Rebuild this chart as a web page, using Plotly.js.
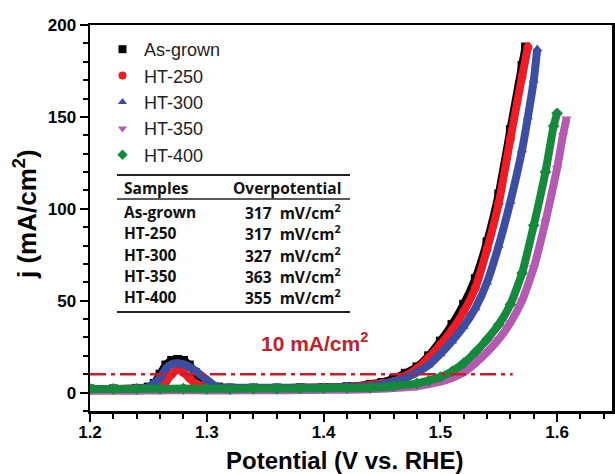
<!DOCTYPE html>
<html><head><meta charset="utf-8">
<script src="https://cdn.plot.ly/plotly-3.0.1.min.js"></script>
<style>html,body{margin:0;padding:0;background:#fff}#chart{width:615px;height:474px}</style>
</head><body><div id="chart"></div>
<script>
// ---- data ----
const seriesNames = ["As-grown", "HT-250", "HT-300", "HT-350", "HT-400"];

const asGrownX = [1.20,1.22,1.24,1.25,1.255,1.26,1.265,1.27,1.275,1.28,1.285,1.29,1.295,1.30,1.31,1.32,1.34,1.36,1.38,1.40,1.42,1.44,1.45,1.46,1.47,1.48,1.49,1.50,1.51,1.52,1.53,1.54,1.55,1.56,1.57,1.573];
const asGrownY = [2,2,2.3,3,5,10,15,17.5,18,17.5,15,11,7,4.5,3,2.5,2.5,2.5,2.6,2.8,3.2,4.5,5.5,7.5,10.5,14,20,28,37,48,62,82,108,143,178,188];

const ht250X = [1.20,1.22,1.24,1.26,1.265,1.27,1.275,1.28,1.285,1.29,1.30,1.32,1.34,1.36,1.38,1.40,1.42,1.44,1.45,1.46,1.47,1.48,1.49,1.50,1.51,1.52,1.53,1.54,1.55,1.56,1.57,1.575];
const ht250Y = [2,2,2.2,3,6,10,12.5,11,8,5,3,2.5,2.5,2.5,2.6,2.8,3.1,4.2,5,6,9,13,19,26,34,44,57,78,103,138,172,188];

const ht300X = [1.20,1.22,1.24,1.25,1.26,1.265,1.27,1.275,1.28,1.285,1.29,1.295,1.30,1.305,1.31,1.32,1.34,1.36,1.38,1.40,1.42,1.44,1.45,1.46,1.47,1.48,1.49,1.50,1.51,1.52,1.53,1.54,1.55,1.56,1.57,1.575,1.58,1.583];
const ht300Y = [2,2,2.2,3,8,13,15.5,16,15.5,14,12,9.5,7,4.5,3,2.7,2.6,2.6,2.6,2.8,3,3.5,4.5,6,8,11,15,21,28,36,46,60,80,104,132,150,170,187];

const ht350X = [1.20,1.22,1.24,1.26,1.28,1.30,1.32,1.34,1.36,1.38,1.40,1.42,1.44,1.46,1.48,1.50,1.51,1.52,1.53,1.54,1.55,1.56,1.57,1.58,1.59,1.60,1.605,1.608];
const ht350Y = [1,1,1,1.2,1.3,1.2,1.2,1.3,1.3,1.4,1.5,1.6,1.8,2.5,3.5,6,8,11,16,22,29,38,50,68,93,122,140,149];

const ht400X = [1.20,1.22,1.24,1.26,1.28,1.30,1.32,1.34,1.36,1.38,1.40,1.42,1.44,1.46,1.48,1.49,1.50,1.51,1.52,1.53,1.54,1.55,1.56,1.57,1.58,1.59,1.597,1.600];
const ht400Y = [2,2,2,2.1,2.2,2.1,2.1,2.2,2.2,2.3,2.4,2.5,2.7,3.5,5,6.5,8.5,11.5,16,22,29,37,48,65,91,120,145,152];

const refLineX = [1.2, 1.562];
const refLineY = [10, 10];

const tableSamples = ["As-grown", "HT-250", "HT-300", "HT-350", "HT-400"];
const tableOverpotential = [317, 317, 327, 363, 355];

// ---- styles ----
const colors = ["#000000", "#ee1c25", "#3b4ea2", "#b45ab0", "#168a3c"];
const symbols = ["square", "circle", "triangle-up", "triangle-down", "diamond"];
const xs = [asGrownX, ht250X, ht300X, ht350X, ht400X];
const ys = [asGrownY, ht250Y, ht300Y, ht350Y, ht400Y];

const traces = [];
for (let i = 0; i < 5; i++) {
  traces.push({
    x: xs[i], y: ys[i], type: "scatter", mode: "lines+markers",
    line: {color: colors[i], width: 8, shape: "spline", smoothing: 0.5},
    marker: {color: colors[i], symbol: symbols[i], size: 9},
    showlegend: false, hoverinfo: "skip"
  });
}
traces.push({
  x: refLineX, y: refLineY, type: "scatter", mode: "lines",
  line: {color: "#c3202b", width: 2.5, dash: "16px,5px,4px,5px"},
  showlegend: false, hoverinfo: "skip"
});
for (let i = 0; i < 5; i++) {
  traces.push({
    x: [null], y: [null], type: "scatter", mode: "markers", name: seriesNames[i],
    marker: {color: colors[i], symbol: symbols[i], size: 8}, showlegend: true
  });
}

const annotations = [];
const shapes = [];
const L = 90, T = 25, W = 522, H = 386;
const px = v => (v - L) / W;
const py = v => 1 - (v - T) / H;
const tfont = {family: "Open Sans, Noto Sans, sans-serif", size: 15.5, color: "#111", weight: 700};
annotations.push({xref:"paper", yref:"paper", x: px(122), y: py(188), xanchor:"left", yanchor:"middle", text:"<b>Samples</b>", showarrow:false, font: tfont});
annotations.push({xref:"paper", yref:"paper", x: px(343), y: py(188), xanchor:"right", yanchor:"middle", text:"<b>Overpotential</b>", showarrow:false, font: tfont});
const rowY = [212, 233, 255, 276, 297];
for (let i = 0; i < tableSamples.length; i++) {
  annotations.push({xref:"paper", yref:"paper", x: px(122), y: py(rowY[i]), xanchor:"left", yanchor:"middle", text:"<b>" + tableSamples[i] + "</b>", showarrow:false, font: tfont});
  annotations.push({xref:"paper", yref:"paper", x: px(343), y: py(rowY[i]), xanchor:"right", yanchor:"middle", text:"<b>" + tableOverpotential[i] + "  mV/cm<sup>2</sup></b>", showarrow:false, font: tfont});
}
shapes.push({type:"line", xref:"paper", yref:"paper", x0: px(117), x1: px(350), y0: py(175), y1: py(175), line:{color:"#222", width:2}});
shapes.push({type:"line", xref:"paper", yref:"paper", x0: px(117), x1: px(350), y0: py(199), y1: py(199), line:{color:"#222", width:1.5}});
shapes.push({type:"line", xref:"paper", yref:"paper", x0: px(117), x1: px(350), y0: py(312), y1: py(312), line:{color:"#222", width:2}});

annotations.push({xref:"paper", yref:"paper", x: px(314), y: py(342), xanchor:"center", yanchor:"middle",
  text:"<b>10 mA/cm<sup>2</sup></b>", showarrow:false, font:{family:"Arial, Liberation Sans, sans-serif", size:21, color:"#c3202b"}});

// axis titles as annotations for exact placement
annotations.push({xref:"paper", yref:"paper", x: px(344), y: py(460), xanchor:"center", yanchor:"middle",
  text:"<b>Potential (V vs. RHE)</b>", showarrow:false, font:{family:"Arial, Liberation Sans, sans-serif", size:24, color:"#000"}});
annotations.push({xref:"paper", yref:"paper", x: px(25), y: py(214), xanchor:"center", yanchor:"middle", textangle:-90,
  text:"<b>j (mA/cm<sup>2</sup>)</b>", showarrow:false, font:{family:"Arial, Liberation Sans, sans-serif", size:26, color:"#000"}});

const layout = {
  width: 615, height: 474,
  margin: {l: L, r: 615 - L - W, t: T, b: 474 - T - H},
  paper_bgcolor: "#fff", plot_bgcolor: "#fff",
  font: {family: "Arial, Liberation Sans, sans-serif", color: "#000"},
  xaxis: {
    range: [1.2, 1.647], dtick: 0.1, tick0: 1.2, tickformat: ".1f",
    ticks: "outside", ticklen: 8, tickwidth: 2, tickcolor: "#000", ticklabelstandoff: -4,
    minor: {dtick: 0.02, ticks: "outside", ticklen: 5, tickwidth: 2, tickcolor: "#000", showgrid: false},
    showline: true, linewidth: 2.5, linecolor: "#000", mirror: true,
    showgrid: false, zeroline: false,
    tickfont: {size: 17, weight: 700, family: "Arial, Liberation Sans, sans-serif"}
  },
  yaxis: {
    range: [-10, 200], dtick: 50, tick0: 0,
    ticks: "outside", ticklen: 8, tickwidth: 2, tickcolor: "#000",
    minor: {dtick: 10, ticks: "outside", ticklen: 5, tickwidth: 2, tickcolor: "#000", showgrid: false},
    showline: true, linewidth: 2.5, linecolor: "#000", mirror: true,
    showgrid: false, zeroline: false,
    tickfont: {size: 17, weight: 700, family: "Arial, Liberation Sans, sans-serif"}
  },
  legend: {x: px(101), y: py(31), xanchor: "left", yanchor: "top", bgcolor: "rgba(0,0,0,0)",
    font: {size: 18, family: "Arial, Liberation Sans, sans-serif", color: "#222"}, itemwidth: 33, tracegroupgap: 0},
  annotations: annotations,
  shapes: shapes
};

Plotly.newPlot("chart", traces, layout, {displayModeBar: false, staticPlot: true});
</script>
</body></html>
